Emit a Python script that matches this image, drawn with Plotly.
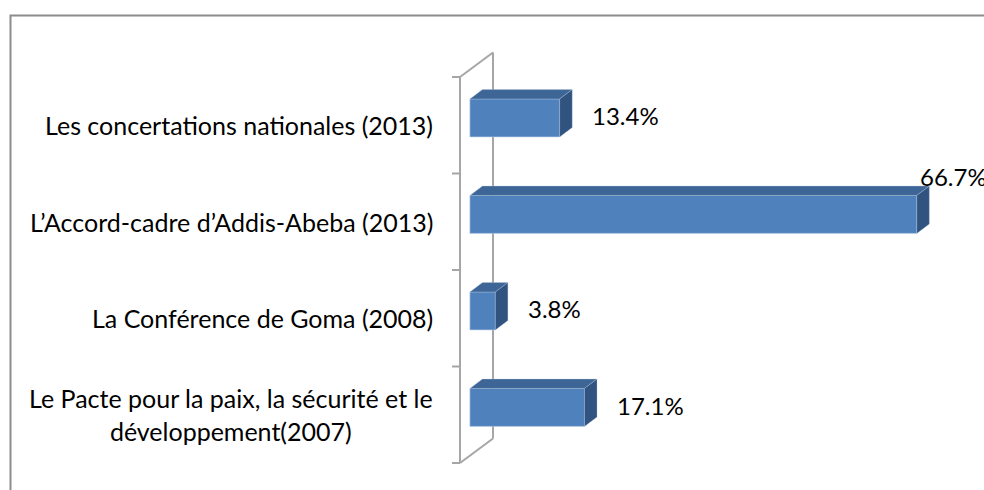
import plotly.graph_objects as go

# ---- data ----
categories = [
    "Le Pacte pour la paix, la sécurité et le<br>développement(2007)",
    "La Conférence de Goma (2008)",
    "L’Accord-cadre d’Addis-Abeba (2013)",
    "Les concertations nationales (2013)",
]
values = [17.1, 3.8, 66.7, 13.4]
value_labels = ["17.1%", "3.8%", "66.7%", "13.4%"]

# ---- style / 3D geometry ----
W, H = 984, 490
PX_PER_UNIT = 6.7          # pixels per percent
PX_PER_CAT = 96.5          # pixels per category
X0_PX, Y0_PX = 460, 463    # front wall origin (pixels)
DX = 33 / PX_PER_UNIT      # wall depth in x units
DY = 24.5 / PX_PER_CAT     # wall depth in category units
F0, F1 = 0.30, 0.68        # bar depth (fraction of wall depth)
BAR_H = 38 / PX_PER_CAT
TICK = 8 / PX_PER_UNIT
LABEL_GAP = 25 / PX_PER_UNIT
VAL_GAP = 18 / PX_PER_UNIT

FRONT = "#4F81BD"
TOP = "#3D6696"
SIDE = "#31537F"
EDGE = "rgba(185,205,229,0.6)"
WALL = "#A6A6A6"
FONT = "Lato"
FS_CAT = 25
FS_VAL = 24

xr = [-X0_PX / PX_PER_UNIT, (W - X0_PX) / PX_PER_UNIT]
yr = [(Y0_PX - H) / PX_PER_CAT - 0.5, Y0_PX / PX_PER_CAT - 0.5]

fig = go.Figure()
n = len(categories)
ys = list(range(n))

# front faces through bar trace
fig.add_trace(go.Bar(
    orientation="h",
    y=[c + F0 * DY for c in ys],
    x=values,
    base=[F0 * DX] * n,
    width=BAR_H,
    marker=dict(color=FRONT, line=dict(color=EDGE, width=1)),
    hoverinfo="skip",
    showlegend=False,
))

# top and side faces
for c, v in zip(ys, values):
    xf0, xf1 = F0 * DX, v + F0 * DX
    xb0, xb1 = F1 * DX, v + F1 * DX
    yf, yb = c + F0 * DY, c + F1 * DY
    top_f, top_b = yf + BAR_H / 2, yb + BAR_H / 2
    bot_f, bot_b = yf - BAR_H / 2, yb - BAR_H / 2
    fig.add_trace(go.Scatter(
        x=[xf0, xf1, xb1, xb0, xf0], y=[top_f, top_f, top_b, top_b, top_f],
        mode="lines", fill="toself", fillcolor=TOP,
        line=dict(color=EDGE, width=0.5), hoverinfo="skip", showlegend=False))
    fig.add_trace(go.Scatter(
        x=[xf1, xb1, xb1, xf1, xf1], y=[top_f, top_b, bot_b, bot_f, top_f],
        mode="lines", fill="toself", fillcolor=SIDE,
        line=dict(color=EDGE, width=0.5), hoverinfo="skip", showlegend=False))

shapes = []
lo, hi = -0.5, n - 0.5
wl = dict(color=WALL, width=2)
shapes.append(dict(type="line", xref="x", yref="y", x0=0, x1=0, y0=lo, y1=hi, line=wl, layer="below"))
shapes.append(dict(type="line", xref="x", yref="y", x0=DX, x1=DX, y0=lo + DY, y1=hi + DY, line=wl, layer="below"))
shapes.append(dict(type="line", xref="x", yref="y", x0=0, x1=DX, y0=lo, y1=lo + DY, line=wl, layer="below"))
shapes.append(dict(type="line", xref="x", yref="y", x0=0, x1=DX, y0=hi, y1=hi + DY, line=wl, layer="below"))
for k in range(n + 1):
    yk = lo + k
    shapes.append(dict(type="line", xref="x", yref="y", x0=-TICK, x1=0, y0=yk, y1=yk, line=wl, layer="below"))

# outer chart border (continues past the window on right/bottom)
shapes.append(dict(type="rect", xref="paper", yref="paper",
                   x0=10.5 / W, x1=1.02, y0=-0.03, y1=1 - 15.5 / H,
                   line=dict(color="#8C8C8C", width=2), layer="below"))

annotations = []
for c, lab in zip(ys, categories):
    annotations.append(dict(x=-LABEL_GAP, y=c, xref="x", yref="y",
                            text=lab, showarrow=False, xanchor="right", yanchor="middle",
                            align="center", font=dict(family=FONT, size=FS_CAT, color="#000")))

xmax = xr[1]
for c, v, lab in zip(ys, values, value_labels):
    xl = v + F1 * DX + VAL_GAP
    if xl + 60 / PX_PER_UNIT > xmax:
        annotations.append(dict(x=v + F0 * DX + 1 / PX_PER_UNIT, y=c + F1 * DY + BAR_H / 2 + 0.1,
                                xref="x", yref="y", text=lab, showarrow=False,
                                xanchor="left", yanchor="middle",
                                font=dict(family=FONT, size=FS_VAL, color="#000")))
    else:
        annotations.append(dict(x=xl, y=c + F0 * DY + 0.02, xref="x", yref="y",
                                text=lab, showarrow=False, xanchor="left", yanchor="middle",
                                font=dict(family=FONT, size=FS_VAL, color="#000")))

fig.update_layout(
    width=W, height=H,
    margin=dict(l=0, r=0, t=0, b=0),
    paper_bgcolor="white", plot_bgcolor="white",
    xaxis=dict(range=xr, visible=False, fixedrange=True),
    yaxis=dict(range=yr, visible=False, fixedrange=True),
    shapes=shapes, annotations=annotations,
    barmode="overlay", showlegend=False,
)

fig.write_html(
    "out.html",
    config={"displayModeBar": False},
    post_script="document.body.style.margin='0';document.body.style.overflow='hidden';",
)
